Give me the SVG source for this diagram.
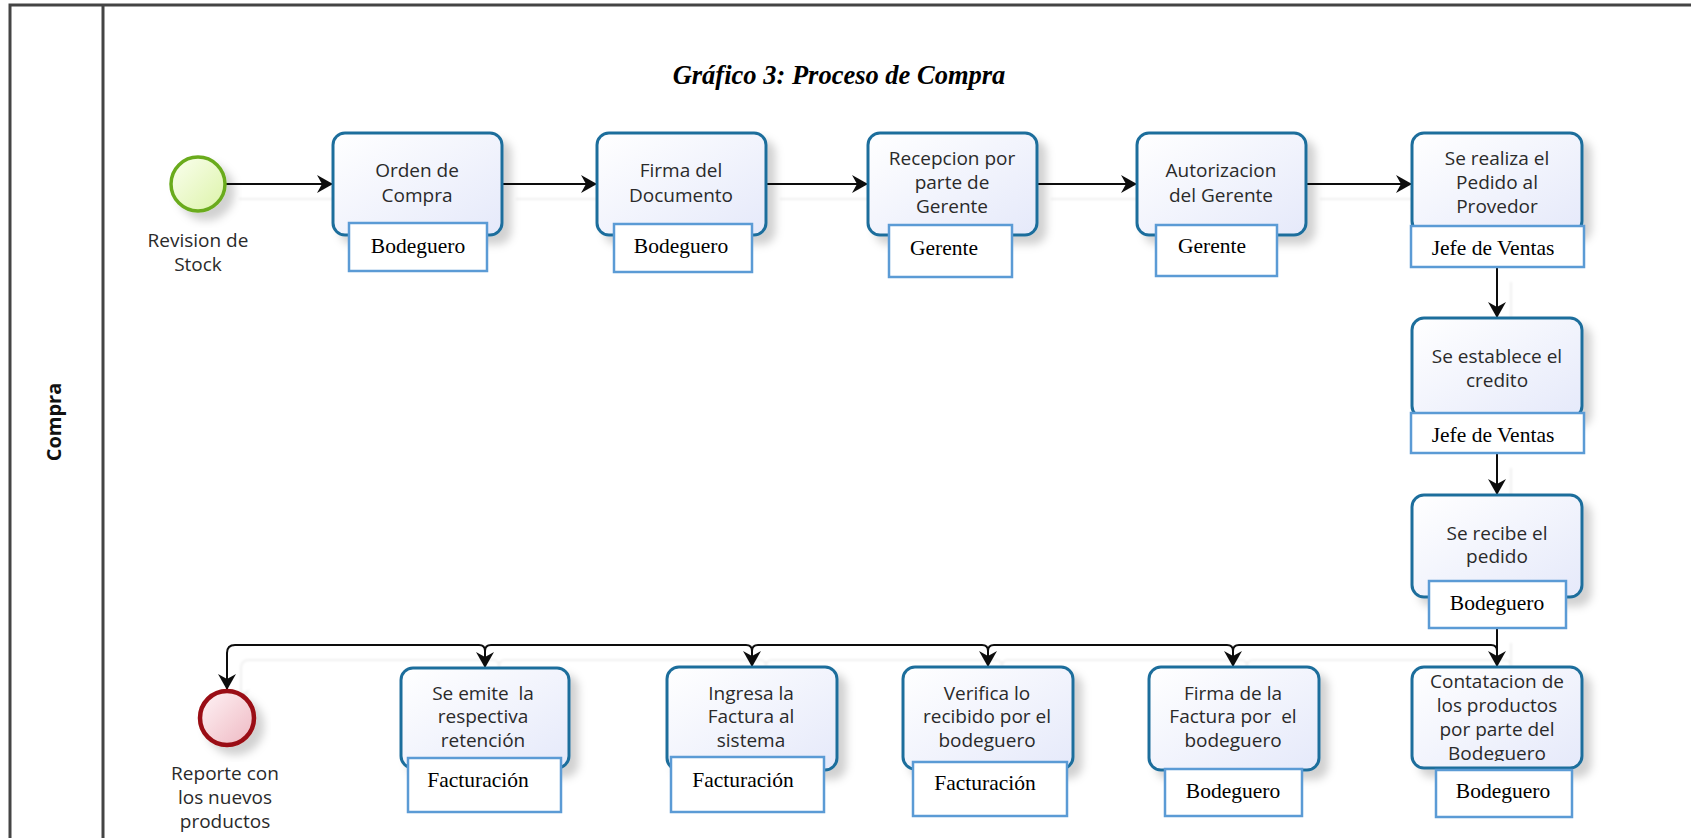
<svg xmlns="http://www.w3.org/2000/svg" width="1691" height="838" viewBox="0 0 1691 838">
<style>
.task{fill:url(#gTask);stroke:#1f6e9c;stroke-width:3;filter:url(#sh)}
.role{fill:#fff;stroke:#5b9bd5;stroke-width:2.5}
.tl{font-family:"Open Sans","Noto Sans",sans-serif;font-size:19px;fill:#2a2a2a;text-anchor:middle}
.rl{font-family:"Liberation Serif","Times New Roman",serif;font-size:21.5px;fill:#000;text-anchor:middle}
.cn{fill:none;stroke:#111;stroke-width:2}
.frame{stroke:#444;stroke-width:3;fill:none}
</style>
<defs>
<linearGradient id="gTask" x1="0" y1="0" x2="1" y2="1">
<stop offset="0" stop-color="#ffffff"/>
<stop offset="1" stop-color="#e5e9fa"/>
</linearGradient>
<linearGradient id="gStart" x1="0" y1="0" x2="1" y2="1">
<stop offset="0" stop-color="#fbfff0"/>
<stop offset="1" stop-color="#dcf3a8"/>
</linearGradient>
<linearGradient id="gEnd" x1="0" y1="0" x2="1" y2="1">
<stop offset="0" stop-color="#fff4f6"/>
<stop offset="1" stop-color="#eeb8c2"/>
</linearGradient>
<filter id="sh" x="-20%" y="-20%" width="150%" height="150%">
<feDropShadow dx="8" dy="8" stdDeviation="4" flood-color="#000" flood-opacity="0.18"/>
</filter>
<filter id="shc" x="-5%" y="-5%" width="120%" height="130%">
<feDropShadow dx="14" dy="15" stdDeviation="1.2" flood-color="#000" flood-opacity="0.06"/>
</filter>
<marker id="arr" markerUnits="userSpaceOnUse" markerWidth="18" markerHeight="18" refX="16" refY="9" orient="auto">
<path d="M0,0 L16,9 L0,18 L5,9 Z" fill="#111"/>
</marker>
<clipPath id="clipC"><rect x="1414" y="675" width="166" height="86"/></clipPath>
</defs>
<rect x="0" y="0" width="1691" height="838" fill="#fff"/>

<g id="pool">
<path class="frame" d="M10,838 V5 H1691"/>
<line class="frame" x1="103" y1="5" x2="103" y2="838"/>
<text x="53" y="422" transform="rotate(-90 53 422)" font-family="'Open Sans','Noto Sans',sans-serif" font-size="20" font-weight="bold" fill="#111" text-anchor="middle" dominant-baseline="central">Compra</text>
</g>

<g id="title">
<text x="839" y="84" font-family="'Liberation Serif','Times New Roman',serif" font-size="26.5" font-weight="bold" font-style="italic" fill="#000" text-anchor="middle">Gráfico 3: Proceso de Compra</text>
</g>

<g id="connectors" filter="url(#shc)">
<path class="cn" marker-end="url(#arr)" d="M225,184 H333"/>
<path class="cn" marker-end="url(#arr)" d="M502,184 H597"/>
<path class="cn" marker-end="url(#arr)" d="M766,184 H868"/>
<path class="cn" marker-end="url(#arr)" d="M1037,184 H1137"/>
<path class="cn" marker-end="url(#arr)" d="M1306,184 H1412"/>
<path class="cn" marker-end="url(#arr)" d="M1497,267 V318"/>
<path class="cn" marker-end="url(#arr)" d="M1497,453 V495"/>
<path class="cn" marker-end="url(#arr)" d="M1497,628 V667"/>
<path class="cn" marker-end="url(#arr)" d="M1497,667 V651 Q1497,645 1491,645 H1239 Q1233,645 1233,651 V667"/>
<path class="cn" marker-end="url(#arr)" d="M1233,667 V651 Q1233,645 1227,645 H994 Q988,645 988,651 V667"/>
<path class="cn" marker-end="url(#arr)" d="M988,667 V651 Q988,645 982,645 H758 Q752,645 752,651 V667"/>
<path class="cn" marker-end="url(#arr)" d="M752,667 V651 Q752,645 746,645 H491 Q485,645 485,651 V668"/>
<path class="cn" marker-end="url(#arr)" d="M485,668 V651 Q485,645 479,645 H235 Q227,645 227,653 V690"/>
</g>

<g id="start">
<circle cx="198" cy="184" r="27" fill="url(#gStart)" stroke="#6aab1f" stroke-width="3.5" filter="url(#sh)"/>
<text class="tl" x="198" y="247">Revision de</text>
<text class="tl" x="198" y="271">Stock</text>
</g>

<g id="t1">
<rect class="task" x="333" y="133" width="169" height="102" rx="12"/>
<text class="tl" x="417" y="177">Orden de</text>
<text class="tl" x="417" y="202">Compra</text>
<rect class="role" x="349" y="223" width="138" height="48"/>
<text class="rl" x="418" y="253">Bodeguero</text>
</g>

<g id="t2">
<rect class="task" x="597" y="133" width="169" height="102" rx="12"/>
<text class="tl" x="681" y="177">Firma del</text>
<text class="tl" x="681" y="202">Documento</text>
<rect class="role" x="614" y="224" width="138" height="48"/>
<text class="rl" x="681" y="253">Bodeguero</text>
</g>

<g id="t3">
<rect class="task" x="868" y="133" width="169" height="102" rx="12"/>
<text class="tl" x="952" y="165">Recepcion por</text>
<text class="tl" x="952" y="189">parte de</text>
<text class="tl" x="952" y="213">Gerente</text>
<rect class="role" x="889" y="225" width="123" height="52"/>
<text class="rl" x="944" y="255">Gerente</text>
</g>

<g id="t4">
<rect class="task" x="1137" y="133" width="169" height="102" rx="12"/>
<text class="tl" x="1221" y="177">Autorizacion</text>
<text class="tl" x="1221" y="202">del Gerente</text>
<rect class="role" x="1156" y="225" width="121" height="51"/>
<text class="rl" x="1212" y="253">Gerente</text>
</g>

<g id="t5">
<rect class="task" x="1412" y="133" width="170" height="100" rx="12"/>
<text class="tl" x="1497" y="165">Se realiza el</text>
<text class="tl" x="1497" y="189">Pedido al</text>
<text class="tl" x="1497" y="213">Provedor</text>
<rect class="role" x="1411" y="226" width="173" height="41"/>
<text class="rl" x="1493" y="255">Jefe de Ventas</text>
</g>

<g id="t6">
<rect class="task" x="1412" y="318" width="170" height="100" rx="12"/>
<text class="tl" x="1497" y="363">Se establece el</text>
<text class="tl" x="1497" y="387">credito</text>
<rect class="role" x="1411" y="413" width="173" height="40"/>
<text class="rl" x="1493" y="442">Jefe de Ventas</text>
</g>

<g id="t7">
<rect class="task" x="1412" y="495" width="170" height="102" rx="12"/>
<text class="tl" x="1497" y="540">Se recibe el</text>
<text class="tl" x="1497" y="563">pedido</text>
<rect class="role" x="1429" y="581" width="137" height="47"/>
<text class="rl" x="1497" y="610">Bodeguero</text>
</g>

<g id="t8">
<rect class="task" x="1412" y="667" width="170" height="101" rx="12"/>
<g clip-path="url(#clipC)">
<text class="tl" x="1497" y="688">Contatacion de</text>
<text class="tl" x="1497" y="712">los productos</text>
<text class="tl" x="1497" y="736">por parte del</text>
<text class="tl" x="1497" y="760">Bodeguero</text>
</g>
<rect class="role" x="1436" y="770" width="136" height="47"/>
<text class="rl" x="1503" y="798">Bodeguero</text>
</g>

<g id="t9">
<rect class="task" x="1149" y="667" width="170" height="103" rx="12"/>
<text class="tl" x="1233" y="700">Firma de la</text>
<text class="tl" x="1233" y="723" xml:space="preserve">Factura por  el</text>
<text class="tl" x="1233" y="747">bodeguero</text>
<rect class="role" x="1165" y="769" width="137" height="47"/>
<text class="rl" x="1233" y="798">Bodeguero</text>
</g>

<g id="t10">
<rect class="task" x="903" y="667" width="170" height="102" rx="12"/>
<text class="tl" x="987" y="700">Verifica lo</text>
<text class="tl" x="987" y="723">recibido por el</text>
<text class="tl" x="987" y="747">bodeguero</text>
<rect class="role" x="913" y="762" width="154" height="54"/>
<text class="rl" x="985" y="790">Facturación</text>
</g>

<g id="t11">
<rect class="task" x="667" y="667" width="170" height="103" rx="12"/>
<text class="tl" x="751" y="700">Ingresa la</text>
<text class="tl" x="751" y="723">Factura al</text>
<text class="tl" x="751" y="747">sistema</text>
<rect class="role" x="671" y="757" width="153" height="55"/>
<text class="rl" x="743" y="787">Facturación</text>
</g>

<g id="t12">
<rect class="task" x="401" y="668" width="168" height="100" rx="12"/>
<text class="tl" x="483" y="700" xml:space="preserve">Se emite  la</text>
<text class="tl" x="483" y="723">respectiva</text>
<text class="tl" x="483" y="747">retención</text>
<rect class="role" x="408" y="758" width="153" height="54"/>
<text class="rl" x="478" y="787">Facturación</text>
</g>

<g id="end">
<circle cx="227" cy="718" r="27" fill="url(#gEnd)" stroke="#9a0f12" stroke-width="4.5" filter="url(#sh)"/>
<text class="tl" x="225" y="780">Reporte con</text>
<text class="tl" x="225" y="804">los nuevos</text>
<text class="tl" x="225" y="828">productos</text>
</g>
</svg>
